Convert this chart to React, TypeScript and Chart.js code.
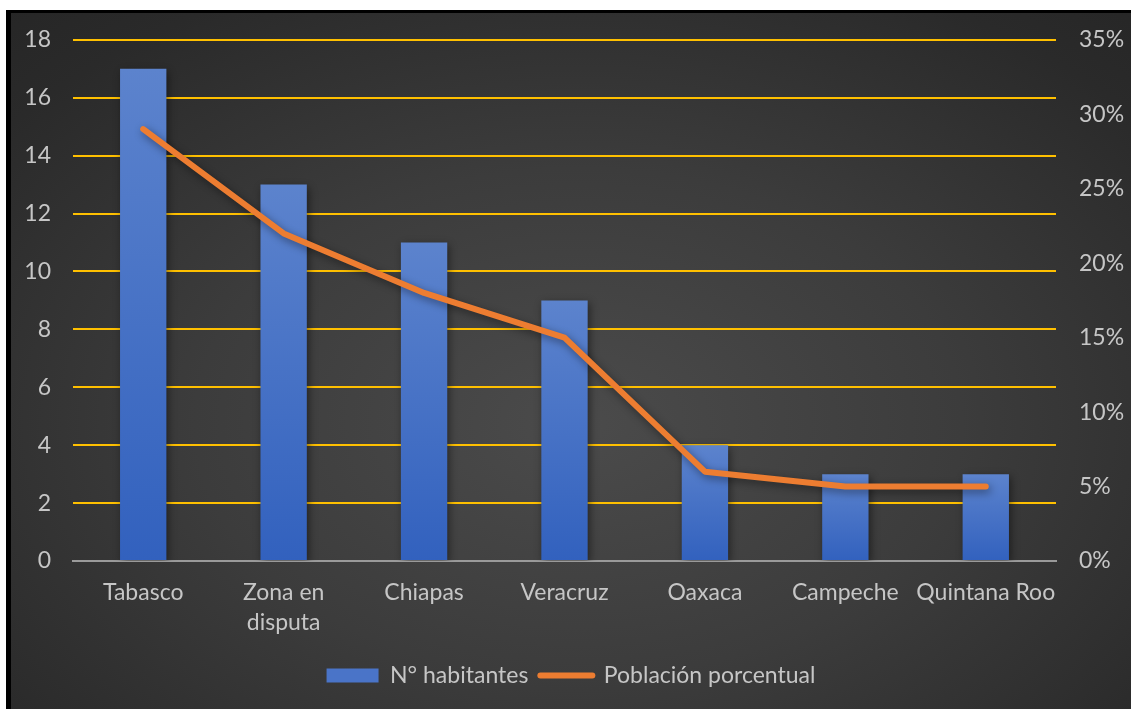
import React, { useEffect, useRef } from "react";
import { Chart, registerables } from "chart.js";

Chart.register(...registerables);

const categories: (string | string[])[] = [
  "Tabasco",
  ["Zona en", "disputa"],
  "Chiapas",
  "Veracruz",
  "Oaxaca",
  "Campeche",
  "Quintana Roo",
];
const habitantes = [17, 13, 11, 9, 4, 3, 3];
const porcentual = [29, 22, 18, 15, 6, 5, 5];
const seriesNames = ["N° habitantes", "Población porcentual"];

const FONT = "Lato, 'Open Sans', sans-serif";
const FS = 23;
const TEXT = "#c6c6c6";

export default function App() {
  const ref = useRef<HTMLCanvasElement>(null);
  useEffect(() => {
    if (!ref.current) return;
    const shadow = {
      id: "shadow",
      beforeDatasetDraw(chart: any) {
        const c = chart.ctx;
        c.save();
        c.shadowColor = "rgba(0,0,0,0.45)";
        c.shadowBlur = 8;
        c.shadowOffsetX = 2;
        c.shadowOffsetY = 3;
      },
      afterDatasetDraw(chart: any) {
        chart.ctx.restore();
      },
    };
    const chart = new Chart(ref.current, {
      type: "bar",
      data: {
        labels: categories as any,
        datasets: [
          {
            type: "bar",
            label: seriesNames[0],
            data: habitantes,
            yAxisID: "y",
            order: 2,
            barPercentage: 0.33,
            categoryPercentage: 1,
            backgroundColor: (ctx: any) => {
              const ch = ctx.chart;
              const sy = ch.scales && ch.scales.y;
              if (!ch.chartArea || !sy || ctx.raw === undefined) return "#4a74c8";
              const y1 = sy.getPixelForValue(ctx.raw);
              const y0 = sy.getPixelForValue(0);
              const g = ch.ctx.createLinearGradient(0, y1, 0, y0);
              g.addColorStop(0, "#5c83cd");
              g.addColorStop(1, "#3261be");
              return g;
            },
          } as any,
          {
            type: "line",
            label: seriesNames[1],
            data: porcentual,
            yAxisID: "y1",
            order: 1,
            borderColor: "#ED7D31",
            backgroundColor: "#ED7D31",
            borderWidth: 6,
            borderCapStyle: "round",
            borderJoinStyle: "round",
            pointRadius: 0,
            tension: 0,
          } as any,
        ],
      },
      options: {
        animation: false,
        responsive: false,
        maintainAspectRatio: false,
        layout: { padding: { top: 0, bottom: 12, left: 0, right: 0 } },
        plugins: {
          tooltip: { enabled: false },
          legend: {
            position: "bottom",
            labels: {
              usePointStyle: true,
              pointStyleWidth: 52,
              boxHeight: 14,
              padding: 12,
              color: TEXT,
              font: { family: FONT, size: FS },
              generateLabels: () => [
                {
                  text: seriesNames[0],
                  fillStyle: "#4a74c8",
                  strokeStyle: "#4a74c8",
                  lineWidth: 0,
                  pointStyle: "rect",
                  fontColor: TEXT,
                  datasetIndex: 0,
                } as any,
                {
                  text: seriesNames[1],
                  fillStyle: "#ED7D31",
                  strokeStyle: "#ED7D31",
                  lineWidth: 6,
                  lineCap: "round",
                  pointStyle: "line",
                  fontColor: TEXT,
                  datasetIndex: 1,
                } as any,
              ],
            },
          },
        },
        scales: {
          x: {
            grid: { display: false, drawTicks: false },
            border: { color: "#9a9a9a", width: 2 },
            ticks: {
              color: TEXT,
              font: { family: FONT, size: FS, lineHeight: 1.3 },
              padding: 17,
              maxRotation: 0,
              autoSkip: false,
            },
            afterFit: (s: any) => {
              s.height = 91;
            },
          },
          y: {
            position: "left",
            min: 0,
            max: 18,
            ticks: {
              stepSize: 2,
              color: TEXT,
              font: { family: FONT, size: FS },
              padding: 22,
            },
            grid: {
              drawTicks: false,
              lineWidth: 2,
              color: (c: any) => (c.tick && c.tick.value === 0 ? "rgba(0,0,0,0)" : "#FFC000"),
            },
            border: { display: false },
            afterFit: (s: any) => {
              s.width = 62;
            },
          },
          y1: {
            position: "right",
            min: 0,
            max: 35,
            ticks: {
              stepSize: 5,
              color: TEXT,
              font: { family: FONT, size: FS },
              padding: 23,
              callback: (v: any) => v + "%",
            },
            grid: { drawOnChartArea: false, drawTicks: false },
            border: { display: false },
            afterFit: (s: any) => {
              s.width = 75;
            },
          },
        },
      },
      plugins: [shadow],
    } as any);
    return () => chart.destroy();
  }, []);

  return (
    <div
      style={{
        position: "fixed",
        left: 6,
        top: 10,
        width: 1140,
        height: 710,
        boxSizing: "border-box",
        borderLeft: "5px solid #000",
        borderTop: "3px solid #000",
        background:
          "radial-gradient(ellipse 75% 80% at 50% 58%, #4b4b4b 0%, #3c3c3c 45%, #2a2a2a 85%, #262626 100%)",
        overflow: "hidden",
      }}
    >
      <canvas
        ref={ref}
        width={1120}
        height={706}
        style={{ position: "absolute", left: 0, top: -10, width: 1120, height: 706 }}
      />
    </div>
  );
}
